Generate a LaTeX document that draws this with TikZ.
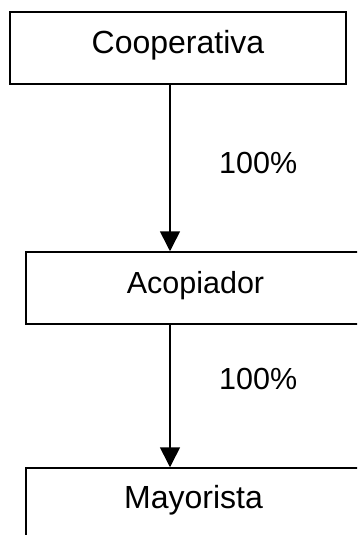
\documentclass[tikz,border=0pt]{standalone}
\usepackage{fontspec}
\setmainfont{Liberation Sans}
\usetikzlibrary{arrows.meta}
\begin{document}
\begin{tikzpicture}[x=1pt,y=-1pt,
  box/.style={draw=black, line width=1.5pt, rectangle, inner sep=0pt,
    text height=20pt, text depth=10pt},
  arr/.style={draw=black, line width=1.6pt, -{Triangle[length=20pt,width=20pt]}},
  lbl/.style={font=\fontsize{30.5}{36}\selectfont, inner sep=0pt, anchor=base west}]
\useasboundingbox (0,0) rectangle (357,535);
\clip (0,0) rectangle (357,535);
\fill[white] (0,0) rectangle (357,535);
\node[box, minimum width=336pt, minimum height=72pt, font=\fontsize{32}{38}\selectfont] (coop) at (178,48) {Cooperativa};
\node[box, minimum width=339pt, minimum height=72pt, font=\fontsize{30.5}{36}\selectfont] (acop) at (195.5,288) {Acopiador};
\node[box, minimum width=339pt, minimum height=80pt] (mayo) at (195.5,508) {};
\node[font=\fontsize{32}{38}\selectfont, inner sep=0pt, anchor=base] (mayot) at (193.5,508) {Mayorista};
\coordinate (ax) at (170,0);
\draw[arr] (coop.south -| ax) -- (acop.north -| ax);
\draw[arr] (acop.south -| ax) -- (mayo.north -| ax);
\node[lbl] (p1) at (219,173) {100\%};
\node[lbl] (p2) at (219,389) {100\%};
\end{tikzpicture}
\end{document}
